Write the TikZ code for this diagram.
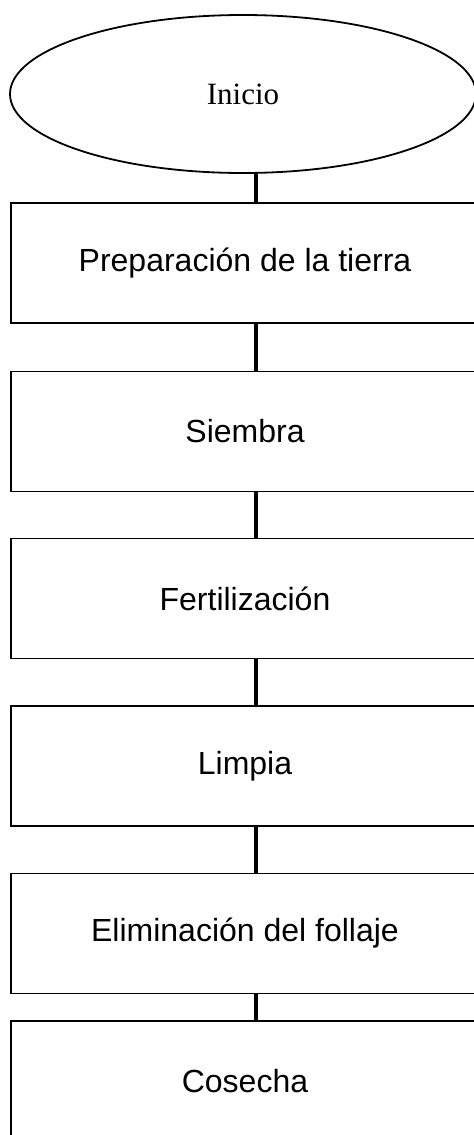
\documentclass[tikz,border=0pt]{standalone}
\usepackage{fontspec}
\setmainfont{Liberation Serif}
\newfontfamily\arial{Liberation Sans}
\usepackage{tikz}
\usetikzlibrary{shapes.geometric}

\begin{document}
\begin{tikzpicture}[x=0.5pt,y=-0.5pt,
  inicio/.style={ellipse,draw,line width=0.9pt,minimum width=233pt,minimum height=79pt,inner sep=0pt,font=\fontsize{15.5}{18}\selectfont},
  paso/.style={rectangle,draw,line width=0.9pt,minimum width=234pt,minimum height=60pt,inner sep=0pt,font=\arial\fontsize{16}{19}\selectfont},
  une/.style={line width=2pt}]
\useasboundingbox (0,0) rectangle (474,1135);
\node[inicio](ini) at (243,94) {Inicio};
\coordinate (eje) at (256,0);
\foreach \n/\y/\t in %
{1/263/Preparación de la tierra,2/431.5/Siembra,3/598.5/Fertilización,4/766/Limpia,5/933.5/Eliminación del follaje,6/1081/Cosecha} {
   \node[paso](p\n) at (245,\y) {\t};
}
\draw[une] (eje |- ini.south) -- (eje |- p1.north);
\foreach \a/\b in {1/2,2/3,3/4,4/5,5/6} {
   \draw[une] (eje |- p\a.south) -- (eje |- p\b.north);
}
\end{tikzpicture}
\end{document}
